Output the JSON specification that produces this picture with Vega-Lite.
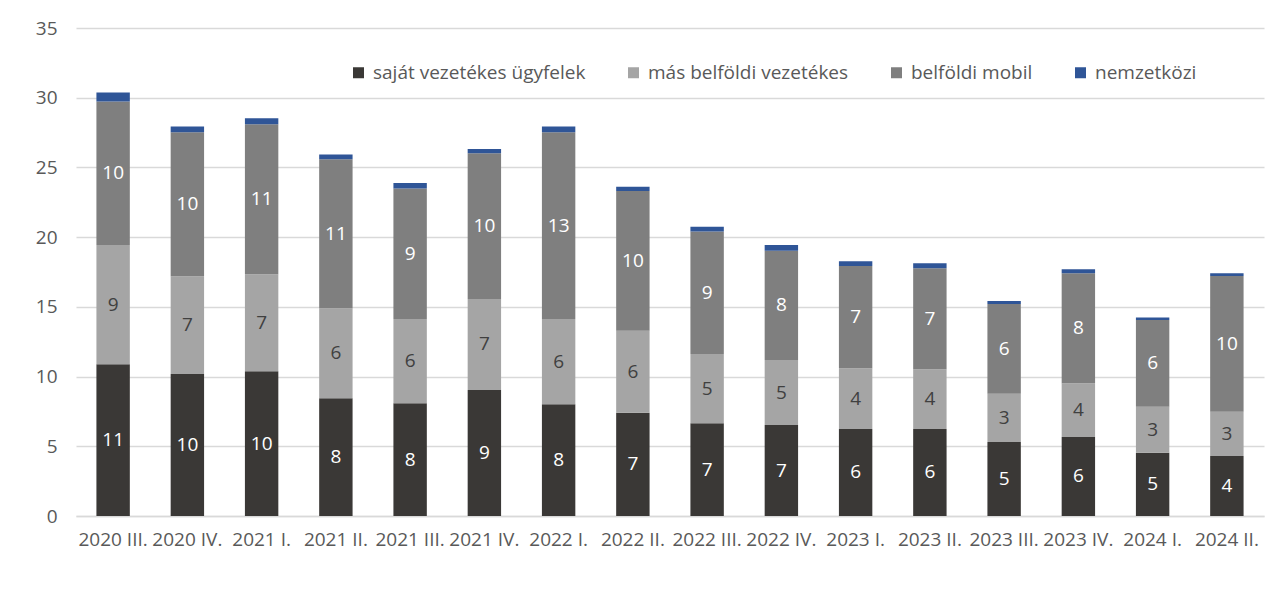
{
  "$schema": "https://vega.github.io/schema/vega-lite/v6.json",
  "width": 1188,
  "height": 488,
  "autosize": {"type": "none"},
  "padding": {"left": 76, "top": 28, "right": 21, "bottom": 74},
  "background": "white",
  "config": {
    "font": "Open Sans",
    "view": {"stroke": null},
    "axis": {"labelColor": "#595959", "labelFontSize": 19, "ticks": false, "titleColor": "#595959"},
    "legend": {"labelColor": "#595959", "labelFontSize": 19, "labelLimit": 0}
  },
  "data": {
    "values": [
      {"q": "2020 III.", "s": "saját vezetékes ügyfelek", "v": 10.88},
      {"q": "2020 III.", "s": "más belföldi vezetékes", "v": 8.56},
      {"q": "2020 III.", "s": "belföldi mobil", "v": 10.28},
      {"q": "2020 III.", "s": "nemzetközi", "v": 0.65},
      {"q": "2020 IV.", "s": "saját vezetékes ügyfelek", "v": 10.19},
      {"q": "2020 IV.", "s": "más belföldi vezetékes", "v": 7.0},
      {"q": "2020 IV.", "s": "belföldi mobil", "v": 10.33},
      {"q": "2020 IV.", "s": "nemzetközi", "v": 0.41},
      {"q": "2021 I.", "s": "saját vezetékes ügyfelek", "v": 10.38},
      {"q": "2021 I.", "s": "más belföldi vezetékes", "v": 6.96},
      {"q": "2021 I.", "s": "belföldi mobil", "v": 10.76},
      {"q": "2021 I.", "s": "nemzetközi", "v": 0.43},
      {"q": "2021 II.", "s": "saját vezetékes ügyfelek", "v": 8.44},
      {"q": "2021 II.", "s": "más belföldi vezetékes", "v": 6.46},
      {"q": "2021 II.", "s": "belföldi mobil", "v": 10.69},
      {"q": "2021 II.", "s": "nemzetközi", "v": 0.33},
      {"q": "2021 III.", "s": "saját vezetékes ügyfelek", "v": 8.08},
      {"q": "2021 III.", "s": "más belföldi vezetékes", "v": 6.05},
      {"q": "2021 III.", "s": "belföldi mobil", "v": 9.35},
      {"q": "2021 III.", "s": "nemzetközi", "v": 0.41},
      {"q": "2021 IV.", "s": "saját vezetékes ügyfelek", "v": 9.04},
      {"q": "2021 IV.", "s": "más belföldi vezetékes", "v": 6.53},
      {"q": "2021 IV.", "s": "belföldi mobil", "v": 10.45},
      {"q": "2021 IV.", "s": "nemzetközi", "v": 0.31},
      {"q": "2022 I.", "s": "saját vezetékes ügyfelek", "v": 8.01},
      {"q": "2022 I.", "s": "más belföldi vezetékes", "v": 6.12},
      {"q": "2022 I.", "s": "belföldi mobil", "v": 13.39},
      {"q": "2022 I.", "s": "nemzetközi", "v": 0.41},
      {"q": "2022 II.", "s": "saját vezetékes ügyfelek", "v": 7.41},
      {"q": "2022 II.", "s": "más belföldi vezetékes", "v": 5.88},
      {"q": "2022 II.", "s": "belföldi mobil", "v": 10.02},
      {"q": "2022 II.", "s": "nemzetközi", "v": 0.31},
      {"q": "2022 III.", "s": "saját vezetékes ügyfelek", "v": 6.65},
      {"q": "2022 III.", "s": "más belföldi vezetékes", "v": 4.97},
      {"q": "2022 III.", "s": "belföldi mobil", "v": 8.78},
      {"q": "2022 III.", "s": "nemzetközi", "v": 0.35},
      {"q": "2022 IV.", "s": "saját vezetékes ügyfelek", "v": 6.52},
      {"q": "2022 IV.", "s": "más belföldi vezetékes", "v": 4.67},
      {"q": "2022 IV.", "s": "belföldi mobil", "v": 7.84},
      {"q": "2022 IV.", "s": "nemzetközi", "v": 0.41},
      {"q": "2023 I.", "s": "saját vezetékes ügyfelek", "v": 6.24},
      {"q": "2023 I.", "s": "más belföldi vezetékes", "v": 4.35},
      {"q": "2023 I.", "s": "belföldi mobil", "v": 7.34},
      {"q": "2023 I.", "s": "nemzetközi", "v": 0.34},
      {"q": "2023 II.", "s": "saját vezetékes ügyfelek", "v": 6.24},
      {"q": "2023 II.", "s": "más belföldi vezetékes", "v": 4.28},
      {"q": "2023 II.", "s": "belföldi mobil", "v": 7.25},
      {"q": "2023 II.", "s": "nemzetközi", "v": 0.36},
      {"q": "2023 III.", "s": "saját vezetékes ügyfelek", "v": 5.31},
      {"q": "2023 III.", "s": "más belföldi vezetékes", "v": 3.46},
      {"q": "2023 III.", "s": "belföldi mobil", "v": 6.44},
      {"q": "2023 III.", "s": "nemzetközi", "v": 0.21},
      {"q": "2023 IV.", "s": "saját vezetékes ügyfelek", "v": 5.67},
      {"q": "2023 IV.", "s": "más belföldi vezetékes", "v": 3.85},
      {"q": "2023 IV.", "s": "belföldi mobil", "v": 7.89},
      {"q": "2023 IV.", "s": "nemzetközi", "v": 0.29},
      {"q": "2024 I.", "s": "saját vezetékes ügyfelek", "v": 4.54},
      {"q": "2024 I.", "s": "más belföldi vezetékes", "v": 3.3},
      {"q": "2024 I.", "s": "belföldi mobil", "v": 6.22},
      {"q": "2024 I.", "s": "nemzetközi", "v": 0.18},
      {"q": "2024 II.", "s": "saját vezetékes ügyfelek", "v": 4.3},
      {"q": "2024 II.", "s": "más belföldi vezetékes", "v": 3.18},
      {"q": "2024 II.", "s": "belföldi mobil", "v": 9.74},
      {"q": "2024 II.", "s": "nemzetközi", "v": 0.19}
    ]
  },
  "transform": [
    {"calculate": "indexof(['saját vezetékes ügyfelek','más belföldi vezetékes','belföldi mobil','nemzetközi'], datum.s)", "as": "o"}
  ],
  "encoding": {
    "x": {
      "field": "q", "type": "nominal", "sort": null, "title": null,
      "scale": {"paddingInner": 0.55, "paddingOuter": 0.275},
      "axis": {"labelAngle": 0, "labelPadding": 14, "domainColor": "#d9d9d9", "domainWidth": 1.5}
    }
  },
  "layer": [
    {
      "mark": {"type": "bar"},
      "encoding": {
        "y": {
          "field": "v", "type": "quantitative", "stack": "zero", "title": null,
          "scale": {"domain": [0, 35], "nice": false},
          "axis": {"values": [0, 5, 10, 15, 20, 25, 30, 35], "domain": false, "gridColor": "#d9d9d9", "gridWidth": 1.5, "labelPadding": 19}
        },
        "color": {
          "field": "s", "type": "nominal", "title": null,
          "sort": ["saját vezetékes ügyfelek", "más belföldi vezetékes", "belföldi mobil", "nemzetközi"],
          "scale": {
            "domain": ["saját vezetékes ügyfelek", "más belföldi vezetékes", "belföldi mobil", "nemzetközi"],
            "range": ["#3a3836", "#a5a5a5", "#7f7f7f", "#2f5597"]
          },
          "legend": {
            "orient": "none", "direction": "horizontal", "legendX": 273, "legendY": 35,
            "symbolType": "square", "symbolSize": 121, "symbolStrokeWidth": 0,
            "labelOffset": 5, "columnPadding": 38
          }
        },
        "order": {"field": "o", "type": "quantitative"}
      }
    },
    {
      "transform": [
        {"stack": "v", "groupby": ["q"], "sort": [{"field": "o", "order": "ascending"}], "as": ["v0", "v1"]},
        {"calculate": "(datum.v0 + datum.v1) / 2", "as": "mid"},
        {"filter": "datum.s !== 'nemzetközi'"}
      ],
      "mark": {"type": "text", "fontSize": 19, "baseline": "middle", "align": "center"},
      "encoding": {
        "y": {"field": "mid", "type": "quantitative"},
        "text": {"field": "v", "type": "quantitative", "format": ".0f"},
        "color": {
          "condition": {"test": "datum.s === 'más belföldi vezetékes'", "value": "#404040"},
          "value": "#ffffff"
        }
      }
    }
  ]
}
